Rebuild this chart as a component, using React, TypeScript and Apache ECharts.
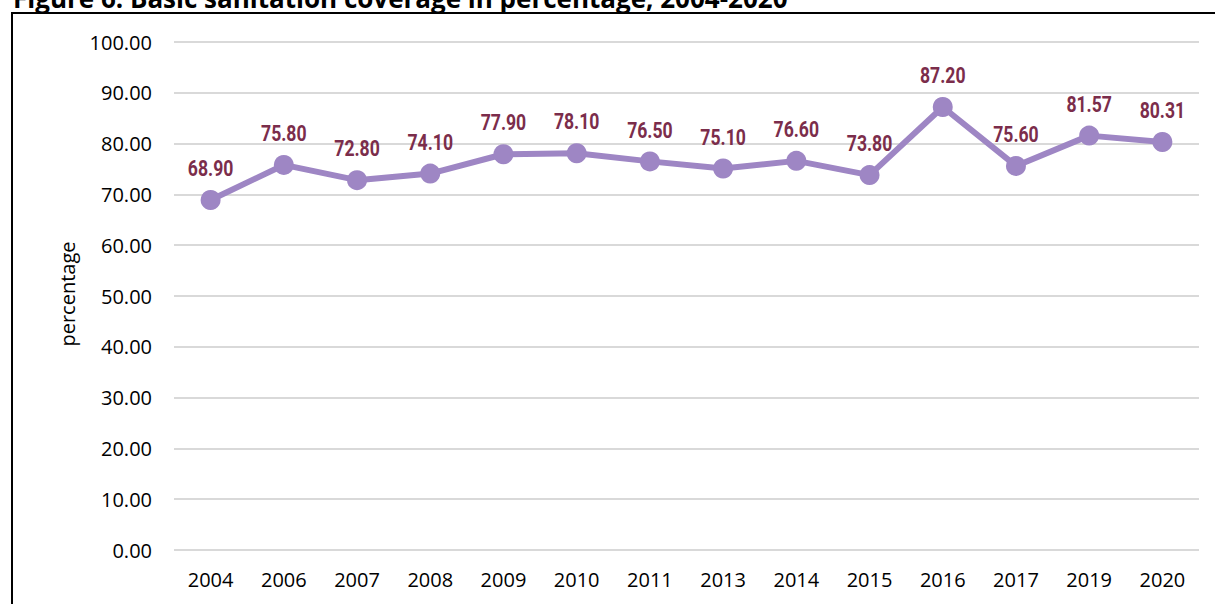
import React, { useEffect, useRef } from "react";
import * as echarts from "echarts";

const years = ["2004", "2006", "2007", "2008", "2009", "2010", "2011", "2013", "2014", "2015", "2016", "2017", "2019", "2020"];
const coverage = [68.9, 75.8, 72.8, 74.1, 77.9, 78.1, 76.5, 75.1, 76.6, 73.8, 87.2, 75.6, 81.57, 80.31];
const titleText = "Figure 6: Basic sanitation coverage in percentage, 2004-2020";
const yName = "percentage";

export default function App() {
  const ref = useRef<HTMLDivElement>(null);
  useEffect(() => {
    document.body.style.margin = "0";
    const chart = echarts.init(ref.current!, null, { renderer: "svg" });
    chart.setOption({
      animation: false,
      backgroundColor: "#ffffff",
      grid: { left: 174, right: 16, top: 42, bottom: 54 },
      graphic: [
        {
          type: "rect",
          shape: { x: 12, y: 13, width: 1240, height: 640 },
          style: { fill: "none", stroke: "#000000", lineWidth: 2 },
          z: 0,
        },
        {
          type: "text",
          x: 13,
          y: -2,
          style: {
            text: titleText,
            font: "bold 26px 'Open Sans', sans-serif",
            fill: "#000000",
            align: "left",
            verticalAlign: "middle",
          },
        },
        {
          type: "text",
          x: 67,
          y: 294,
          rotation: Math.PI / 2,
          style: {
            text: yName,
            font: "20px 'Open Sans', sans-serif",
            fill: "#000000",
            align: "center",
            verticalAlign: "middle",
          },
        },
      ],
      xAxis: {
        type: "category",
        data: years,
        boundaryGap: true,
        axisLine: { show: false },
        axisTick: { show: false },
        axisLabel: {
          color: "#000000",
          fontFamily: "'Open Sans', sans-serif",
          fontSize: 20,
          margin: 19,
        },
      },
      yAxis: {
        type: "value",
        min: 0,
        max: 100,
        interval: 10,
        axisLine: { show: false },
        axisTick: { show: false },
        splitLine: { lineStyle: { color: "#d9d9d9", width: 2 } },
        axisLabel: {
          color: "#000000",
          fontFamily: "'Open Sans', sans-serif",
          fontSize: 20,
          margin: 22,
          formatter: (v: number) => v.toFixed(2),
        },
      },
      series: [
        {
          type: "line",
          data: coverage,
          symbol: "circle",
          symbolSize: 20,
          lineStyle: { color: "#9e86c4", width: 6 },
          itemStyle: { color: "#9e86c4" },
          label: { show: false },
          z: 2,
        },
        {
          type: "custom",
          data: coverage.map((v, i) => [i, v]),
          z: 3,
          renderItem: (params: any, api: any) => {
            const pt = api.coord([api.value(0), api.value(1)]);
            return {
              type: "text",
              x: pt[0],
              y: pt[1] - 31,
              scaleX: 0.8,
              style: {
                text: Number(api.value(1)).toFixed(2),
                font: "bold 22px Roboto, sans-serif",
                fill: "#7b2d4b",
                align: "center",
                verticalAlign: "middle",
              },
            };
          },
        },
      ],
    });
    return () => chart.dispose();
  }, []);
  return <div ref={ref} style={{ width: 1215, height: 604 }} />;
}
